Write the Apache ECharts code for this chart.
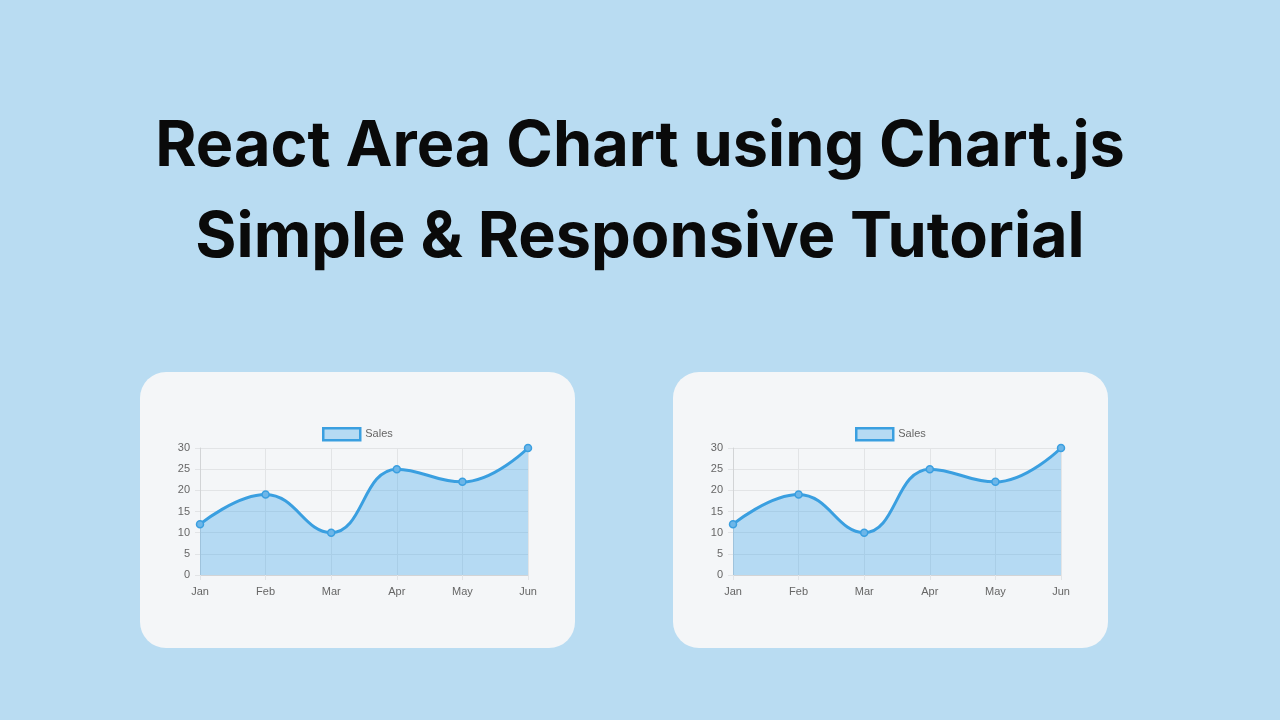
<!DOCTYPE html>
<html>
<head>
<meta charset="utf-8">
<script src="https://cdn.jsdelivr.net/npm/echarts@6/dist/echarts.min.js"></script>
<style>
html,body{margin:0;padding:0;background:#B9DCF2;}
#c{width:1280px;height:720px;}
</style>
</head>
<body>
<div id="c"></div>
<script>
const titleLines = ['React Area Chart using Chart.js', 'Simple & Responsive Tutorial'];
const categories = ['Jan', 'Feb', 'Mar', 'Apr', 'May', 'Jun'];
const salesValues = [12, 19, 10, 25, 22, 30];
const seriesName = 'Sales';
const yMin = 0, yMax = 30, yStep = 5;

const lineColor = '#3a9fe0';
const fillColor = 'rgba(54,162,235,0.33)';
const gridColor = '#e2e4e6';
const axisColor = '#d2d4d6';
const labelColor = '#666';

const cards = [{x:140, y:372}, {x:673, y:372}];
const cardW = 435, cardH = 276;

const chart = echarts.init(document.getElementById('c'), null, {renderer:'canvas'});

const grids = [], xAxes = [], yAxes = [], series = [], legends = [];
cards.forEach((c, i) => {
  grids.push({left: c.x + 60, top: c.y + 76, width: 328, height: 127});
  xAxes.push({
    type:'category', gridIndex:i, data:categories, boundaryGap:false,
    axisLine:{lineStyle:{color:axisColor}},
    axisTick:{show:true, length:5, lineStyle:{color:gridColor}, alignWithLabel:true},
    axisLabel:{color:labelColor, fontSize:11, fontFamily:'Liberation Sans, Arial', margin:11},
    splitLine:{show:true, lineStyle:{color:gridColor}}
  });
  yAxes.push({
    type:'value', gridIndex:i, min:yMin, max:yMax, interval:yStep,
    axisLine:{show:true, lineStyle:{color:axisColor}},
    axisTick:{show:true, length:5, lineStyle:{color:gridColor}},
    axisLabel:{color:labelColor, fontSize:11, fontFamily:'Liberation Sans, Arial', margin:10},
    splitLine:{show:true, lineStyle:{color:gridColor}}
  });
  series.push({
    name:seriesName, type:'line', xAxisIndex:i, yAxisIndex:i, data:salesValues,
    smooth:0.45, symbol:'circle', symbolSize:7,
    lineStyle:{color:lineColor, width:3},
    itemStyle:{color:'#6db6e8', borderColor:lineColor, borderWidth:1.5},
    areaStyle:{color:fillColor, opacity:1},
    z:3
  });
  legends.push({
    left: c.x + 182, top: c.y + 55, padding:0,
    itemWidth:37, itemHeight:12, itemGap:10,
    data:[{name:seriesName, icon:'rect', itemStyle:{color:'rgba(54,162,235,0.33)', borderColor:lineColor, borderWidth:2.5}}],
    textStyle:{color:labelColor, fontSize:11, fontFamily:'Liberation Sans, Arial'},
    selectedMode:false
  });
});

const graphics = cards.map(c => ({
  type:'rect', shape:{x:c.x, y:c.y, width:cardW, height:cardH, r:26},
  style:{fill:'#F4F6F8'}, z:-10, silent:true
}));
titleLines.forEach((t, i) => {
  graphics.push({
    type:'text', x:640, y:147 + i*91, z:10,
    style:{text:t, fill:'#0a0a0a', font:'700 63px Inter, "Noto Sans", sans-serif', textAlign:'center', textVerticalAlign:'middle'}
  });
});

chart.setOption({
  backgroundColor:'#B9DCF2',
  animation:false,
  graphic:graphics,
  legend:legends,
  grid:grids,
  xAxis:xAxes,
  yAxis:yAxes,
  series:series
});
</script>
</body>
</html>
